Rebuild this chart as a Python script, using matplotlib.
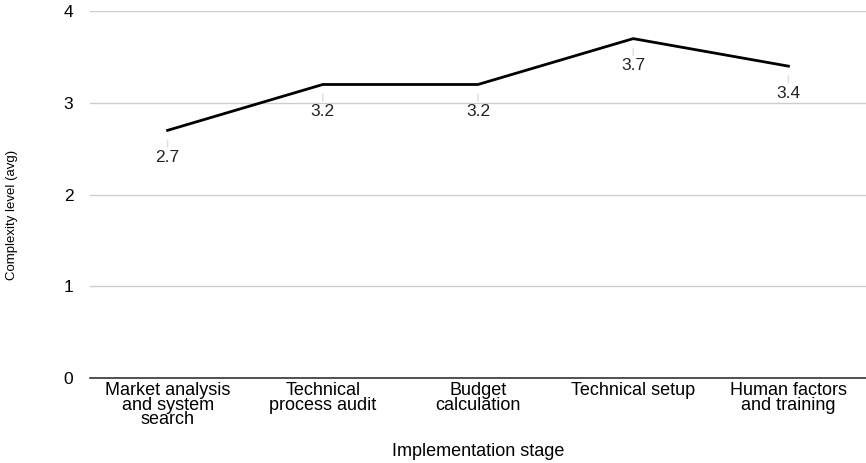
import matplotlib
matplotlib.use("Agg")
import matplotlib.pyplot as plt

stages = ["Market analysis\nand system\nsearch", "Technical\nprocess audit",
          "Budget\ncalculation", "Technical setup", "Human factors\nand training"]
values = [2.7, 3.2, 3.2, 3.7, 3.4]
yticks = [0, 1, 2, 3, 4]

plt.rcParams['font.family'] = ['Liberation Sans', 'DejaVu Sans']

fig = plt.figure(figsize=(8.66, 4.63), dpi=100)
ax = fig.add_axes([0.1039, 0.1836, 0.8961, 0.7924])

x = list(range(len(values)))
ax.plot(x, values, color='black', lw=2, zorder=3)

for xi, v in zip(x, values):
    # short leader line under each point
    ax.annotate(f"{v}", xy=(xi, v), xytext=(0, -19.5), textcoords='offset points',
                ha='center', va='center', fontsize=12.5, color='#222222',
                arrowprops=dict(arrowstyle='-', color='#dddddd', lw=1,
                                shrinkA=0, shrinkB=7))

ax.set_xlim(-0.5, len(values) - 0.5)
ax.set_ylim(0, 4)
ax.set_yticks(yticks)
ax.set_xticks(x)
ax.set_xticklabels(stages, fontsize=13, linespacing=0.8)
ax.tick_params(axis='y', length=0, pad=12, labelsize=12.5)
ax.tick_params(axis='x', length=0, pad=3)
ax.yaxis.grid(True, color='#cccccc', lw=1)
ax.set_axisbelow(True)
for s in ['top', 'right', 'left']:
    ax.spines[s].set_visible(False)
ax.spines['bottom'].set_color('#333333')
ax.spines['bottom'].set_linewidth(1.2)

fig.text(0.552, 0.024, "Implementation stage", ha='center', va='center', fontsize=13)
fig.text(0.014, 0.536, "Complexity level (avg)", rotation=90, ha='center', va='center',
         fontsize=9.5, stretch='condensed')

fig.savefig("out.png", dpi=100)
